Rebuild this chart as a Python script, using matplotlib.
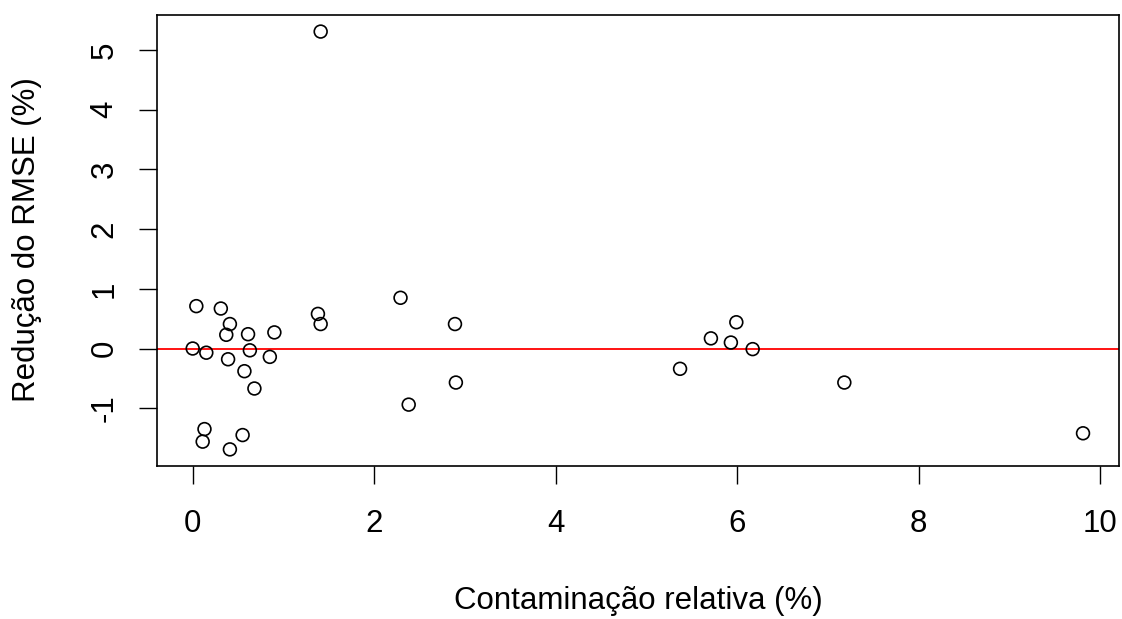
import matplotlib
matplotlib.use("Agg")
import matplotlib.pyplot as plt

# contaminacao relativa (%) vs reducao do RMSE (%)
contaminacao = [0.04, 0.31, 0.41, 0.37, 0.61, 0.90, 0.00, 0.15, 0.39, 0.63,
                0.85, 0.57, 0.68, 0.13, 0.11, 0.55, 0.41, 1.41, 1.38, 1.41,
                2.29, 2.89, 2.90, 2.38, 5.37, 5.71, 5.93, 5.99, 6.17, 7.18, 9.81]
reducao = [0.71, 0.67, 0.41, 0.23, 0.24, 0.27, 0.00, -0.07, -0.18, -0.03,
           -0.14, -0.38, -0.67, -1.35, -1.56, -1.45, -1.69, 5.31, 0.58, 0.41,
           0.85, 0.41, -0.57, -0.94, -0.34, 0.17, 0.10, 0.44, -0.01, -0.57, -1.42]
xticks = [0, 2, 4, 6, 8, 10]
yticks = [-1, 0, 1, 2, 3, 4, 5]

plt.rcParams['font.family'] = ['Liberation Sans', 'DejaVu Sans']
fs = 22.5

fig = plt.figure(figsize=(11.22, 6.19), dpi=100)
ax = fig.add_axes([0.140, 0.247, 0.857, 0.729])

ax.axhline(0, color='#ff0000', lw=1.3, zorder=1)
ax.scatter(contaminacao, reducao, s=85, facecolors='none', edgecolors='black',
           linewidths=1.2, zorder=2)

# R style: 4% padding around the data
xr = max(contaminacao) - min(contaminacao)
yr = max(reducao) - min(reducao)
ax.set_xlim(min(contaminacao) - 0.04 * xr, max(contaminacao) + 0.04 * xr)
ax.set_ylim(min(reducao) - 0.04 * yr, max(reducao) + 0.04 * yr)

ax.set_xticks(xticks)
ax.set_yticks(yticks)
ax.set_xticklabels([str(v) for v in xticks])
ax.set_yticklabels([str(v) for v in yticks], rotation=90, va='center')
ax.tick_params(axis='both', direction='out', length=13, width=1, labelsize=fs,
               colors='black')
ax.tick_params(axis='x', pad=18)
ax.tick_params(axis='y', pad=14)
for s in ax.spines.values():
    s.set_linewidth(1.2)
    s.set_color('black')

fig.text(638 / 1122, 1 - 601 / 619, "Contaminação relativa (%)", fontsize=fs,
         ha='center', va='center')
fig.text(27 / 1122, 1 - 240 / 619, "Redução do RMSE (%)", fontsize=fs,
         ha='center', va='center', rotation=90)

fig.savefig("out.png", dpi=100)
